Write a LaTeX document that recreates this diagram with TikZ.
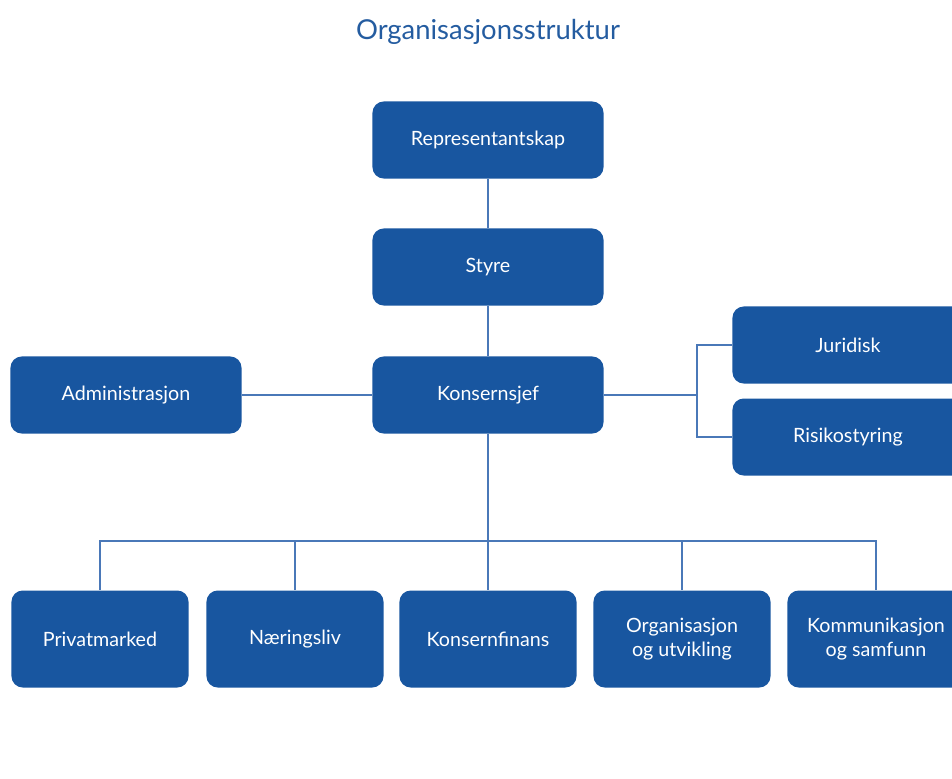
\documentclass[tikz,border=0pt]{standalone}
\usepackage{fontspec}
\setmainfont{Lato}
\definecolor{orgblue}{RGB}{24,86,160}
\definecolor{titleblue}{RGB}{36,92,160}
\definecolor{linkblue}{RGB}{74,120,184}
\begin{document}
\begin{tikzpicture}[
    x=0.025cm, y=-0.025cm,
    box/.style={rectangle, fill=orgblue, rounded corners=8pt, minimum width=5.775cm, minimum height=1.925cm, align=center, text=white, font=\fontsize{14}{17.5}\selectfont},
    unit/.style={box, minimum width=4.425cm, minimum height=2.425cm},
    link/.style={draw=linkblue, line width=0.9pt}
]
    \useasboundingbox (0,0) rectangle (952,778);
    \clip (0,0) rectangle (952,778);
    \node[text=titleblue, font=\fontsize{19.5}{23}\selectfont] (title) at (488,32) {Organisasjonsstruktur};
    \node[box] (rep) at (488,140) {Representantskap};
    \node[box] (styre) at (488,267) {Styre};
    \node[box] (kjef) at (488,395) {Konsernsjef};
    \node[box] (adm) at (126,395) {Administrasjon};
    \node[box] (jur) at (848,345) {Juridisk};
    \node[box] (risk) at (848,437) {Risikostyring};
    \node[unit] (priv) at (100,639) {Privatmarked};
    \node[unit] (naer) at (295,639) {Næringsliv};
    \node[unit] (kfin) at (488,639) {Konsernfinans};
    \node[unit] (org) at (682,639) {Organisasjon\\og utvikling};
    \node[unit] (kom) at (876,639) {Kommunikasjon\\og samfunn};
    \coordinate (branch) at (697,395);
    \coordinate (bus) at (488,541);
    \draw[link] (rep) -- (styre);
    \draw[link] (styre) -- (kjef);
    \draw[link] (adm) -- (kjef);
    \draw[link] (kjef) -- (branch);
    \draw[link] (jur.west) -| (branch) |- (risk.west);
    \draw[link] (kjef) -- (kfin);
    \draw[link] (priv.north) -- (priv.north |- bus) -- (kom.north |- bus) -- (kom.north);
    \draw[link] (naer.north) -- (naer.north |- bus);
    \draw[link] (org.north) -- (org.north |- bus);
\end{tikzpicture}
\end{document}
